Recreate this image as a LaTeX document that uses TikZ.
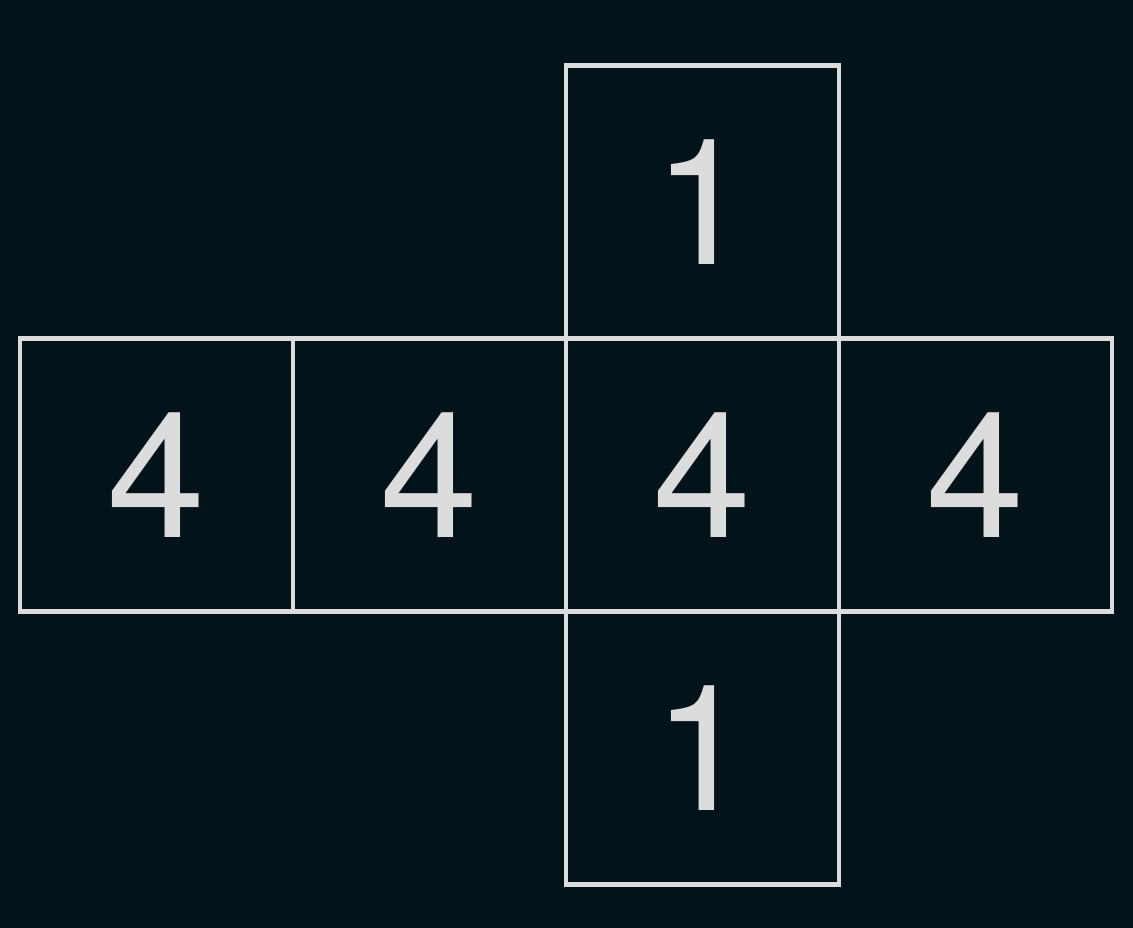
\documentclass[tikz,border=0pt]{standalone}
\usepackage{fontspec}
\setmainfont{TeX Gyre Heros}
\usepackage{xcolor}
\usetikzlibrary{positioning}
\definecolor{boardbg}{HTML}{02141A}
\definecolor{chalk}{HTML}{DCDCDC}

\begin{document}
\begin{tikzpicture}[node distance=0pt,
	  every node/.style = {shape=rectangle, draw=chalk, line width=4.5pt,
	    minimum size=273pt, inner sep=0pt, outer sep=0pt,
	    text=chalk, font=\fontsize{176}{176}\selectfont}]
	  \fill[boardbg] (0pt,0pt) rectangle (1133pt,-928pt);
	  \useasboundingbox (0pt,0pt) rectangle (1133pt,-928pt);
	  % middle row
	  \node (left) at (156.5pt,-475pt) {4};
	  \node (back) [right=of left] {4};
	  \node (front) [right=of back] {4};
	  \node (right) [right=of front] {4};
	  % top and bottom
	  \node (top) [above=of front] {1};
	  \node (bottom) [below=of front] {1};
	\end{tikzpicture}
\end{document}
